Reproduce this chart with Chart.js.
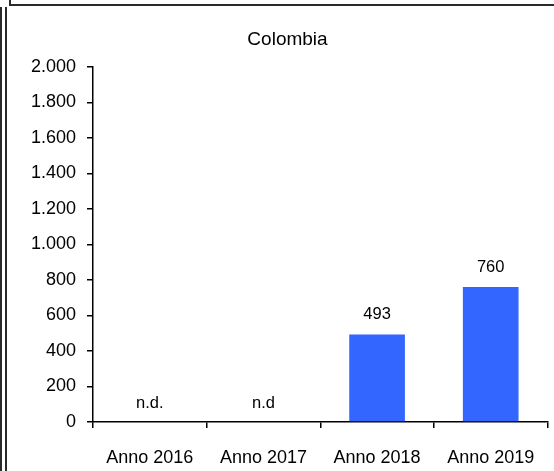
<!DOCTYPE html>
<html>
<head>
<meta charset="utf-8">
<script src="https://cdn.jsdelivr.net/npm/chart.js@4/dist/chart.umd.min.js"></script>
<style>
  html, body { margin: 0; padding: 0; background: #fff; }
  #wrap { width: 554px; height: 471px; position: relative; }
</style>
</head>
<body>
<div id="wrap"><canvas id="chart" width="554" height="471"></canvas></div>
<script>
var categorie = ["Anno 2016", "Anno 2017", "Anno 2018", "Anno 2019"];
var valori = [null, null, 493, 760];
var noteMancanti = ["n.d.", "n.d", "", ""];
var tickY = [0, 200, 400, 600, 800, 1000, 1200, 1400, 1600, 1800, 2000];

var FONT = "'Liberation Sans', Arial, sans-serif";

function formatta(v) {
    return String(v).replace(/\B(?=(\d{3})+(?!\d))/g, ".");
}

// cornice attorno al grafico
var cornice = {
    id: 'cornice',
    afterDraw: function (chart) {
        var ctx = chart.ctx;
        ctx.save();
        ctx.strokeStyle = '#2a2a2a';
        ctx.lineWidth = 2;
        ctx.beginPath();
        ctx.moveTo(1, 7); ctx.lineTo(1, 471);
        ctx.moveTo(6, 7); ctx.lineTo(6, 471);
        ctx.moveTo(10, 0); ctx.lineTo(10, 5);
        ctx.lineTo(554, 5);
        ctx.stroke();
        ctx.restore();
    }
};

// etichette sopra le barre e "n.d." per gli anni senza dati
var etichette = {
    id: 'etichette',
    afterDatasetsDraw: function (chart) {
        var ctx = chart.ctx;
        var x = chart.scales.x, y = chart.scales.y;
        ctx.save();
        ctx.font = '16.5px ' + FONT;
        ctx.fillStyle = '#000';
        ctx.textAlign = 'center';
        ctx.textBaseline = 'middle';
        for (var i = 0; i < categorie.length; i++) {
            var px = x.getPixelForValue(i);
            if (valori[i] === null) {
                ctx.fillText(noteMancanti[i], px, y.getPixelForValue(0) - 19);
            } else {
                ctx.fillText(formatta(valori[i]), px, y.getPixelForValue(valori[i]) - 20);
            }
        }
        ctx.restore();
    }
};

var data = {
    labels: categorie,
    datasets: [{
        data: valori,
        backgroundColor: '#3366ff',
        borderWidth: 0,
        categoryPercentage: 1,
        barPercentage: 0.49
    }]
};

var options = {
    responsive: false,
    animation: false,
    layout: { padding: { left: 27, right: 6, top: 0, bottom: 0 } },
    plugins: {
        legend: { display: false },
        tooltip: { enabled: false },
        title: {
            display: true,
            text: 'Colombia',
            color: '#000',
            font: { family: FONT, size: 19, weight: 'normal', lineHeight: 1.2 },
            padding: { top: 28, bottom: 16 }
        }
    },
    scales: {
        x: {
            offset: true,
            border: { display: true, color: '#000', width: 1.5 },
            grid: { display: true, drawOnChartArea: false, drawTicks: true, tickLength: 6, color: '#000', lineWidth: 1.5, offset: true },
            ticks: { color: '#000', font: { family: FONT, size: 18 }, padding: 19, maxRotation: 0 },
            afterFit: function (s) { s.height = 49; }
        },
        y: {
            min: 0,
            max: 2000,
            afterBuildTicks: function (s) { s.ticks = tickY.map(function (v) { return { value: v }; }); },
            border: { display: true, color: '#000', width: 1.5 },
            grid: { display: true, drawOnChartArea: false, drawTicks: true, tickLength: 6, color: '#000', lineWidth: 1.5 },
            ticks: { color: '#000', font: { family: FONT, size: 18 }, padding: 11, callback: function (v) { return formatta(v); } },
            afterFit: function (s) { s.width = 66; }
        }
    }
};

var oGrafico = new Chart(document.getElementById('chart'), {
    type: 'bar',
    data: data,
    options: options,
    plugins: [etichette, cornice]
});
</script>
</body>
</html>
